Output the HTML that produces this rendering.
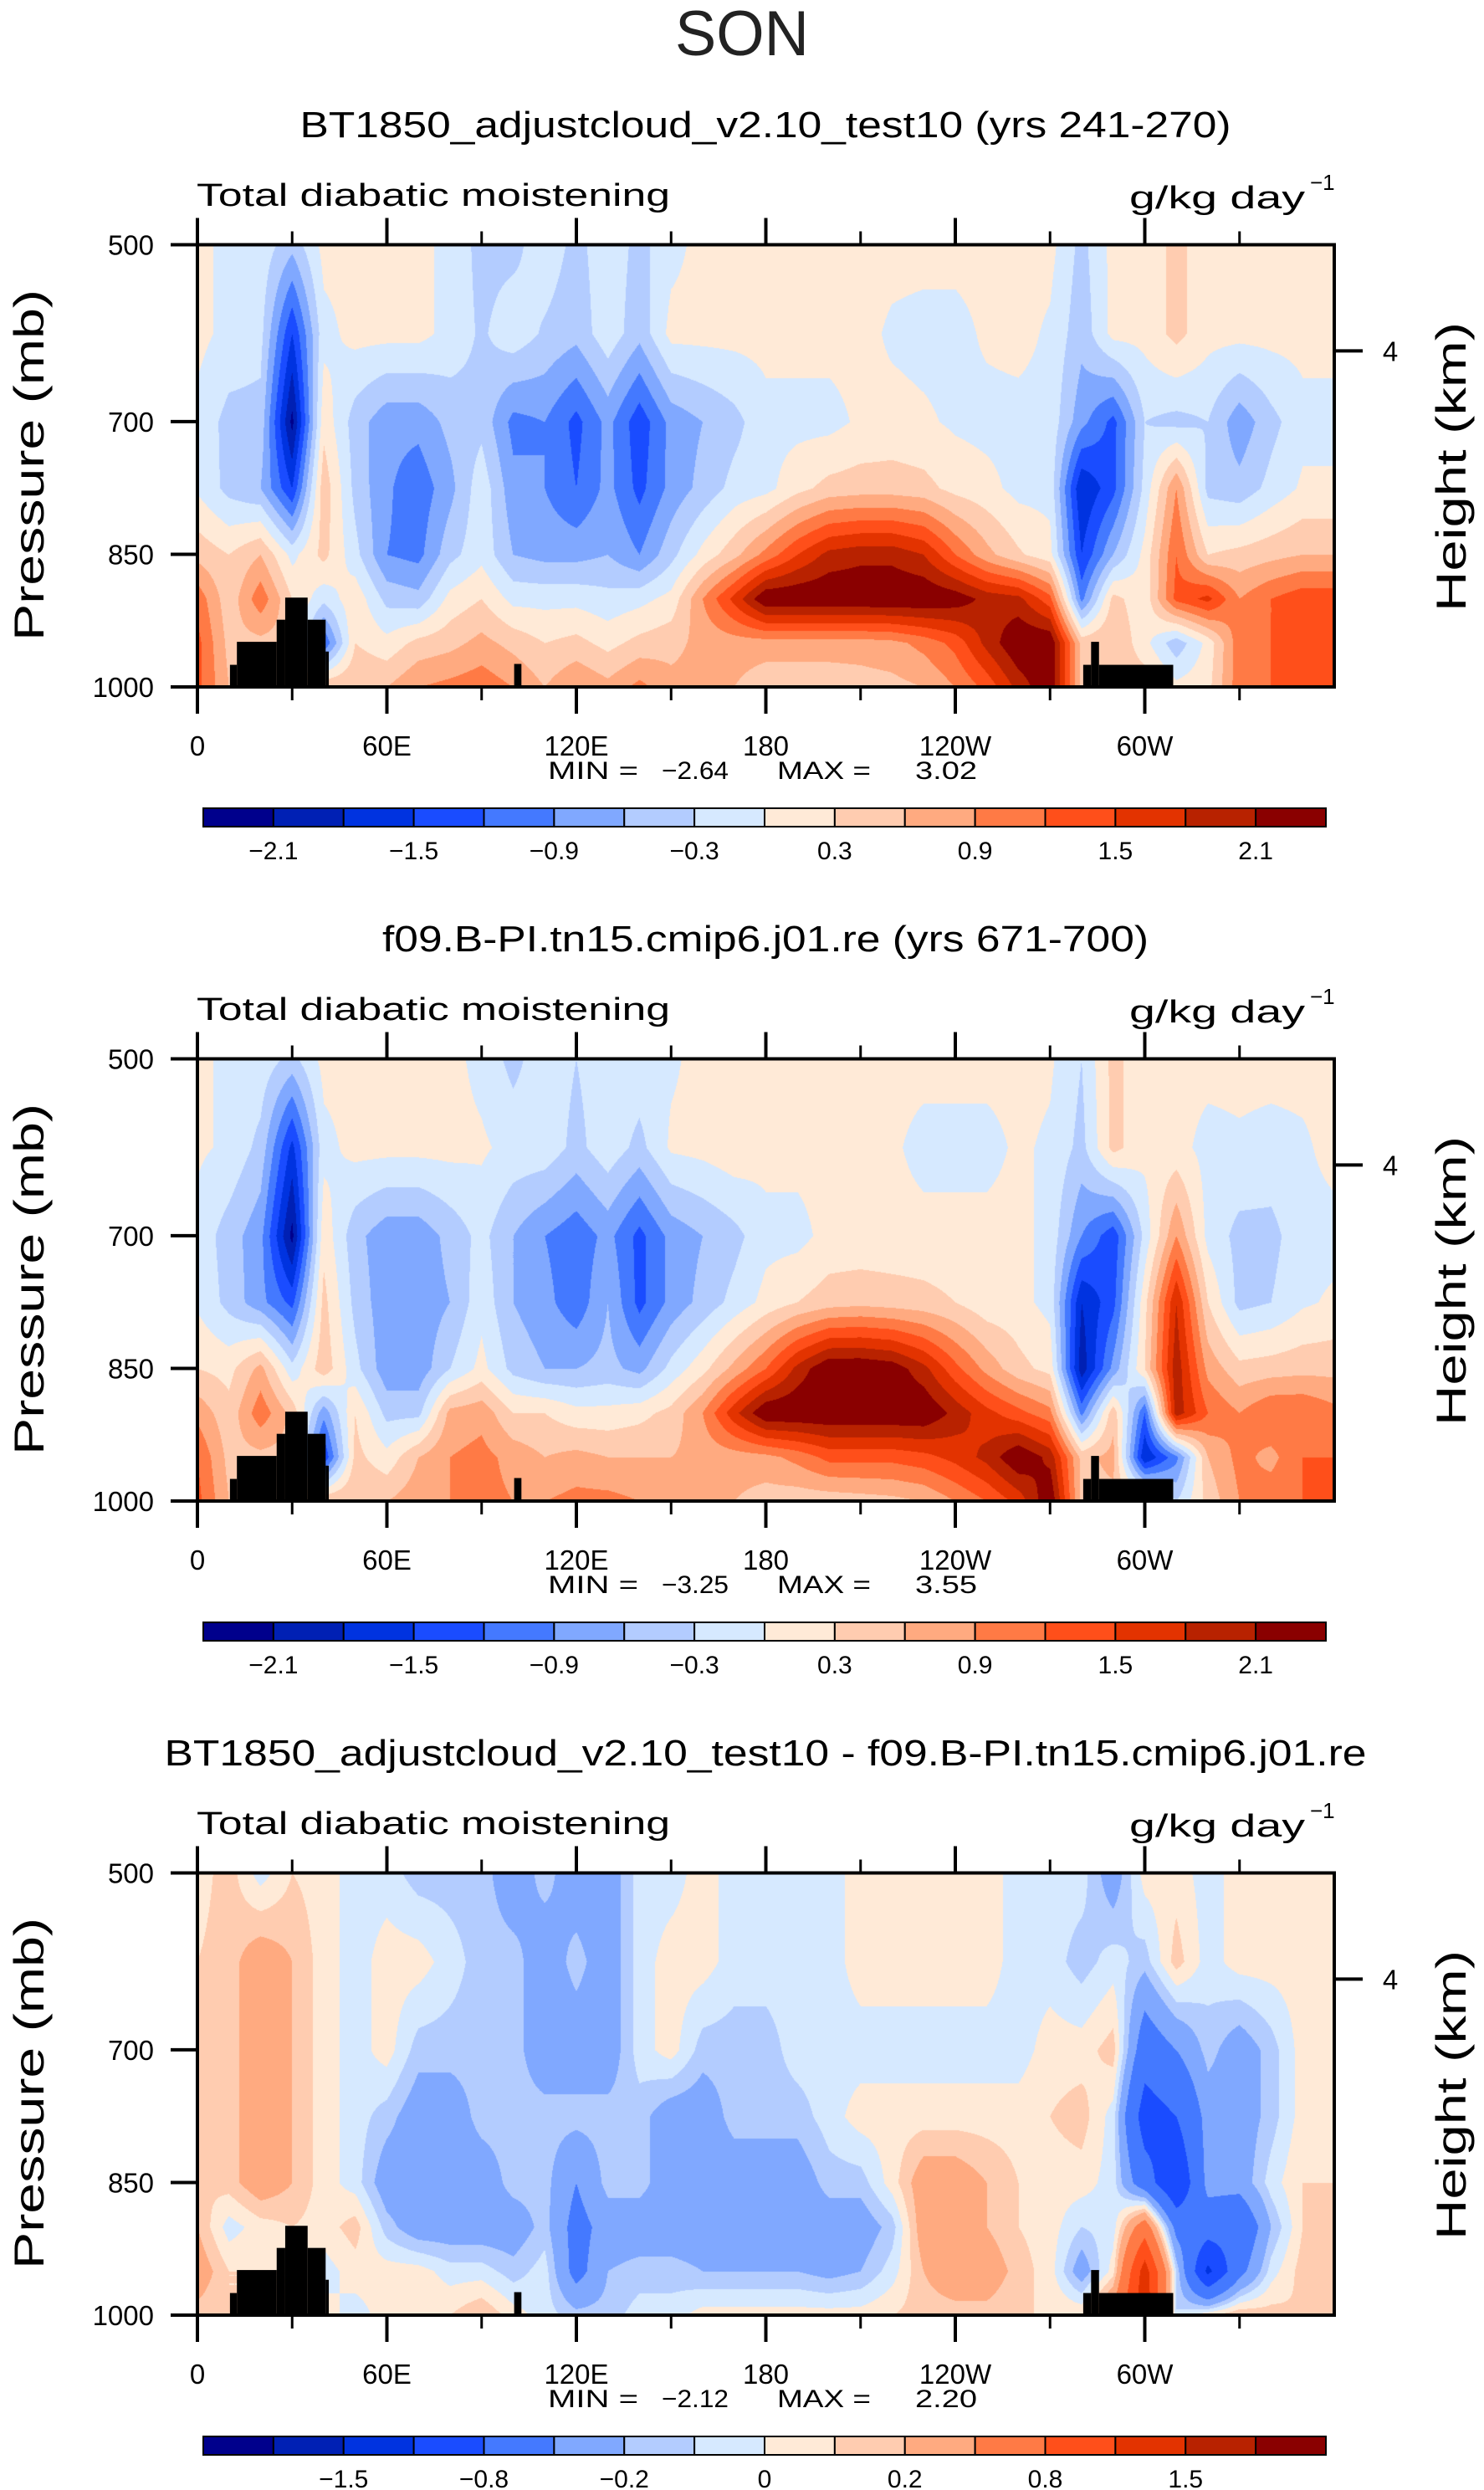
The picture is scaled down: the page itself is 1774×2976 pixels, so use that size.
<!DOCTYPE html>
<html><head><meta charset="utf-8">
<style>
html,body{margin:0;padding:0;background:#fff;}
body{width:1774px;height:2976px;position:relative;overflow:hidden;font-family:"Liberation Sans",sans-serif;}
canvas{position:absolute;}
#overlay{position:absolute;left:0;top:0;}
</style></head>
<body>
<svg id="overlay" width="1774" height="2976" xmlns="http://www.w3.org/2000/svg"></svg>
<script>
// ---------- grid coordinates ----------
const lonGrid = [0,10,20,30,40,50,60,70,80,90,100,110,120,130,140,150,160,170,180,190,200,210,220,230,240,250,260,270,280,290,300,310,320,330,340,350,360];
const presGrid = [500,600,700,775,850,900,950,1000];

// ---------- panel A: BT1850_adjustcloud_v2.10_test10 ----------
const a500 = [0.1,-0.1,-0.1,-0.5,0.1,0.1,0.1,0.1,-0.1,-0.4, -0.4,-0.1,-0.4,-0.1,-0.4,-0.1,0.1,0.1,0.1,0.1, 0.1,0.1,0.1,0.1,0.1,0.1,0.1,0.1,-0.4,0.1, 0.1,0.4,0.1,0.1,0.1,0.1,0.1];
const a600 = [0.1,-0.1,-0.2,-1.5,-0.1,0.1,0.1,0.1,-0.1,-0.35, -0.1,-0.35,-0.5,-0.1,-0.5,0.1,0.1,0.1,0.1,0.1, 0.1,0.1,-0.05,-0.1,-0.1,0.05,0.1,-0.05,-0.5,0.1, 0.1,0.4,0.1,0.1,0.1,0.1,0.1];
const a700 = [-0.1,-0.4,-0.4,-2.2,0.2,-0.45,-0.8,-0.8,-0.5,-0.4, -1.0,-0.9,-1.3,-0.8,-1.4,-0.8,-0.6,-0.4,-0.1,-0.1, -0.1,0.05,0.1,0.05,-0.05,-0.1,-0.1,-0.1,-0.8,-1.3, -0.3,-0.4,-0.3,-0.8,-0.4,-0.1,-0.1];
const a775 = [-0.05,-0.4,-0.6,-1.5,0.5,-0.4,-0.85,-1.1,-0.7,-0.1, -0.8,-0.9,-1.2,-0.8,-1.3,-0.8,-0.5,-0.2,-0.1,0.2, 0.4,0.45,0.45,0.4,0.2,0.1,-0.1,-0.1,-1.8,-1.3, -0.2,0.9,-0.4,-0.5,-0.2,0.05,0.05];
const a850 = [0.5,0.3,0.6,-0.1,0.4,-0.2,-0.9,-1.0,-0.4,-0.1, -0.6,-0.7,-0.7,-0.6,-0.9,-0.4,0.1,0.5,1.0,1.5, 1.9,2.0,2.0,1.8,1.2,0.7,0.35,0.1,-1.5,-0.6, 0.1,1.2,0.3,0.4,0.5,0.6,0.6];
const a900 = [1.1,0.4,1.1,0.3,-0.2,0.2,-0.4,-0.5,0.1,0.3, -0.1,-0.1,-0.1,-0.2,-0.1,0.1,0.9,1.6,2.4,2.4, 2.4,2.4,2.4,2.4,2.3,2.0,1.9,1.3,-1.0,0.4, 0.1,1.3,1.6,0.9,1.2,1.4,1.4];
const a950 = [1.3,0.5,0.5,0.5,-1.2,0.3,0.1,0.4,0.5,0.7, 0.5,0.3,0.4,0.2,0.4,0.5,0.7,0.75,0.75,0.75, 0.75,0.75,0.8,1.0,1.3,1.9,2.4,2.4,0.5,0.6, 0.1,-0.5,0.1,1.1,1.2,1.4,1.4];
const a1000 = [1.3,0.6,0.6,0.6,0.6,0.6,0.6,0.9,1.0,1.1, 0.9,0.6,0.9,0.7,1.0,0.7,0.7,0.6,0.4,0.4, 0.4,0.45,0.5,0.6,0.9,1.3,1.9,2.4,0.5,0.5, 0.5,0.1,0.2,1.1,1.2,1.3,1.3];

// ---------- panel B: f09.B-PI.tn15.cmip6.j01.re ----------
const b500 = [0.1,-0.1,-0.1,-0.4,0.1,0.1,0.1,0.1,0.1,-0.1, -0.4,-0.1,-0.3,-0.1,-0.1,-0.05,0.1,0.1,0.1,0.1, 0.1,0.1,0.1,0.1,0.1,0.1,0.1,0.05,-0.3,0.4, 0.1,0.1,0.1,0.1,0.1,0.1,0.1];
const b600 = [0.05,-0.05,-0.4,-1.6,-0.1,0.1,0.1,0.1,0.1,0.05, -0.1,-0.1,-0.4,-0.1,-0.4,0.05,0.1,0.2,0.1,0.1, 0.1,0.1,0.05,-0.1,-0.1,-0.1,0.05,-0.05,-0.4,0.4, 0.1,0.1,-0.1,-0.05,-0.1,-0.05,0.1];
const b700 = [-0.1,-0.45,-0.8,-2.2,0.2,-0.5,-0.8,-0.8,-0.5,-0.2, -0.6,-0.9,-1.1,-0.8,-1.3,-0.8,-0.6,-0.4,-0.1,-0.1, 0.1,0.1,0.1,0.1,0.1,0.1,0.1,-0.1,-0.9,-1.4, -0.2,0.9,-0.1,-0.4,-0.4,-0.1,-0.1];
const b775 = [-0.05,-0.4,-0.8,-1.3,0.4,-0.4,-0.8,-0.8,-0.6,-0.1, -0.6,-0.8,-1.1,-0.6,-1.3,-0.8,-0.5,-0.2,0.1,0.3, 0.45,0.5,0.45,0.4,0.3,0.1,0.1,-0.1,-1.8,-1.3, 0.2,1.8,0.3,-0.4,-0.3,-0.05,0.05];
const b850 = [0.3,0.2,0.7,-0.2,0.5,-0.2,-0.8,-0.8,-0.3,0.1, -0.4,-0.6,-0.6,-0.5,-0.7,-0.2,0.2,0.7,1.2,1.9, 2.4,2.4,2.3,1.9,1.3,0.8,0.4,0.2,-2.0,-0.8, 0.3,2.0,0.8,0.4,0.45,0.5,0.5];
const b900 = [0.8,0.4,1.1,0.5,-0.8,0.3,-0.4,-0.4,0.7,0.8, 0.3,0.3,0.1,0.1,0.2,0.4,0.9,1.7,2.4,2.4, 2.4,2.4,2.4,2.4,2.0,1.6,1.3,1.0,-1.0,0.5, -1.2,2.0,1.2,0.9,1.2,1.2,1.0];
const b950 = [1.2,0.5,0.5,0.5,-1.5,0.4,0.1,0.6,0.9,1.0, 0.8,0.6,0.7,0.6,0.6,0.6,0.7,0.75,0.8,1.0, 1.3,1.3,1.3,1.4,1.6,1.9,2.4,2.0,0.5,0.7, -1.8,-1.0,0.6,1.0,0.8,1.2,1.2];
const b1000 = [1.3,0.6,0.6,0.6,0.6,0.6,0.6,0.8,0.9,1.0, 0.9,0.9,1.0,1.0,0.9,0.7,0.7,0.6,0.45,0.4, 0.4,0.45,0.5,0.6,0.9,1.2,1.6,2.4,0.5,0.5, 0.5,-0.3,0.4,0.9,1.1,1.2,1.2];

// ---------- panel C: difference ----------
const c500 = [0.05,0.15,-0.05,0.1,0.05,-0.05,-0.05,-0.15,-0.15,-0.15, -0.3,-0.15,-0.3,-0.3,-0.05,-0.05,0.05,-0.05,-0.05,-0.05, -0.05,0.05,0.05,0.05,0.05,0.05,-0.05,-0.05,-0.05,-0.3, 0.05,0.05,-0.05,0.05,0.05,0.05,0.05];
const c600 = [0.1,0.15,0.3,0.2,0.05,-0.05,0.05,0.05,-0.05,-0.15, -0.15,-0.3,-0.15,-0.3,-0.05,0.05,0.05,-0.05,-0.05,-0.05, -0.05,0.05,0.05,0.05,0.05,0.05,-0.05,-0.05,-0.15,-0.05, -0.15,0.15,-0.05,0.05,0.05,0.05,0.05];
const c700 = [0.1,0.15,0.3,0.2,0.05,-0.05,0.05,-0.15,-0.15,-0.15, -0.15,-0.3,-0.3,-0.3,-0.05,0.05,-0.15,-0.15,-0.15,-0.05, -0.05,-0.05,-0.05,-0.05,-0.05,-0.05,-0.05,0.05,0.05,0.15, -0.6,-0.4,-0.15,-0.3,-0.15,0.05,0.05];
const c775 = [0.1,0.15,0.3,0.2,0.05,-0.05,-0.15,-0.3,-0.3,-0.15, -0.15,-0.15,-0.15,-0.15,-0.15,-0.3,-0.3,-0.15,-0.15,-0.15, -0.05,0.05,0.05,0.05,0.05,0.05,0.05,0.1,0.15,-0.05, -1.0,-0.8,-0.3,-0.3,-0.15,0.05,0.05];
const c850 = [0.1,0.15,0.3,0.2,0.05,-0.05,-0.3,-0.3,-0.3,-0.3, -0.15,-0.15,-0.4,-0.15,-0.15,-0.3,-0.3,-0.3,-0.3,-0.3, -0.15,-0.15,0.05,0.3,0.3,0.2,0.1,0.05,0.05,-0.05, -0.6,-1.2,-0.3,-0.3,-0.05,0.1,0.1];
const c900 = [0.2,-0.05,0.05,0.1,0.05,0.15,-0.15,-0.3,-0.3,-0.3, -0.3,-0.15,-0.5,-0.3,-0.3,-0.3,-0.3,-0.3,-0.3,-0.3, -0.3,-0.3,-0.15,0.3,0.3,0.2,0.1,0.05,-0.1,-0.05, 0.6,-0.5,-0.6,-0.7,-0.2,0.1,0.2];
const c950 = [0.3,0.1,0.1,0.1,-0.05,0.05,0.05,0.05,-0.05,-0.05, -0.15,-0.05,-0.5,-0.2,-0.15,-0.15,-0.2,-0.2,-0.2,-0.2, -0.25,-0.2,-0.05,0.2,0.3,0.3,0.15,0.05,-0.3,0.05, 1.4,-0.1,-1.3,-0.5,-0.05,0.15,0.2];
const c1000 = [0.15,0.1,0.1,0.1,0.05,-0.05,0.05,0.1,0.1,0.2, 0.05,-0.05,-0.15,-0.15,-0.05,-0.05,0.05,0.05,0.05,0.05, 0.05,0.05,0.1,0.15,0.15,0.15,0.1,0.1,0.1,0.5, 1.5,-0.1,0.1,0.2,0.15,0.1,0.1];

// ---------- contour levels / labels ----------
const levelsAB = [-2.1,-1.8,-1.5,-1.2,-0.9,-0.6,-0.3,0,0.3,0.6,0.9,1.2,1.5,1.8,2.1];
const levelsC = [-1.8,-1.5,-1.2,-0.8,-0.4,-0.2,-0.1,0,0.1,0.2,0.4,0.8,1.2,1.5,1.8];
const labelsAB = ["−2.1","","−1.5","","−0.9","","−0.3","","0.3","","0.9","","1.5","","2.1"];
const labelsC = ["","−1.5","","−0.8","","−0.2","","0","","0.2","","0.8","","1.5",""];
const minVals = ["−2.64","−3.25","−2.12"];
const maxVals = ["3.02","3.55","2.20"];
const titles = ["BT1850_adjustcloud_v2.10_test10 (yrs 241-270)","f09.B-PI.tn15.cmip6.j01.re (yrs 671-700)","BT1850_adjustcloud_v2.10_test10 - f09.B-PI.tn15.cmip6.j01.re"];
const xTickLons = [0,60,120,180,240,300];
const xTickLabels = ["0","60E","120E","180","120W","60W"];
const xMinorLons = [30,90,150,210,270,330];
const yTickPres = [500,700,850,1000];
const yTickLabels = ["500","700","850","1000"];
// terrain (black) segments: lon start, lon end, top pressure
const terrLon0 = [10.3,12.5,25.1,27.8,34.9,40.6,100.3,280.5,283,285.5];
const terrLon1 = [12.5,25.1,27.8,34.9,40.6,41.6,102.6,283,285.5,309];
const terrTop = [975,949,924,899,924,960,974,975,949,975];

const colors = ["#00008c","#0020b4","#0033e0","#1a4cff","#4479ff","#80a8ff","#b3ccff","#d6e9ff","#ffead7","#ffccb0","#ffaa80","#ff7a45","#ff4f1a","#e33300","#b82200","#8a0000"];

// ---------- layout ----------
const PX0 = 236, PX1 = 1595, PY0 = 292.5, PH = 528.5;
const offsets = [0, 973, 1946];
const SVGNS = "http://www.w3.org/2000/svg";
const svg = document.getElementById('overlay');

function xOf(lon){ return PX0 + lon/360*(PX1-PX0); }
function yOf(p, off){ return PY0 + off + (p-500)/500*PH; }

function el(tag, attrs, parent){
  const e = document.createElementNS(SVGNS, tag);
  for (const k in attrs) e.setAttribute(k, attrs[k]);
  (parent||svg).appendChild(e);
  return e;
}
function txt(str, attrs, parent){
  const t = el('text', attrs, parent);
  t.textContent = str;
  return t;
}

function sample(rows, lon, p){
  let j = 0;
  while (j < presGrid.length-2 && p > presGrid[j+1]) j++;
  const tp = Math.min(1, Math.max(0, (p-presGrid[j])/(presGrid[j+1]-presGrid[j])));
  let i = Math.min(lonGrid.length-2, Math.floor(lon/10));
  const tl = Math.min(1, Math.max(0, (lon-lonGrid[i])/(lonGrid[i+1]-lonGrid[i])));
  const r0 = rows[j], r1 = rows[j+1];
  const v0 = r0[i]*(1-tl) + r0[i+1]*tl;
  const v1 = r1[i]*(1-tl) + r1[i+1]*tl;
  return v0*(1-tp) + v1*tp;
}
function hexToRgb(h){ return [parseInt(h.substr(1,2),16),parseInt(h.substr(3,2),16),parseInt(h.substr(5,2),16)]; }
const rgb = colors.map(hexToRgb);

function drawField(rows, levels, off, name){
  const W = PX1-PX0, H = Math.round(PH);
  const cv = document.createElement('canvas');
  cv.width = W; cv.height = H;
  cv.style.left = PX0+'px'; cv.style.top = (PY0+off)+'px';
  
  
  document.body.insertBefore(cv, svg);
  const ctx = cv.getContext('2d');
  const img = ctx.createImageData(W, H);
  for (let y=0; y<H; y++){
    const p = 500 + (y+0.5)/PH*500;
    for (let x=0; x<W; x++){
      const lon = (x+0.5)/W*360;
      const v = sample(rows, lon, p);
      let k = 0; while (k < levels.length && v >= levels[k]) k++;
      const c = rgb[k], o = (y*W+x)*4;
      img.data[o]=c[0]; img.data[o+1]=c[1]; img.data[o+2]=c[2]; img.data[o+3]=255;
    }
  }
  ctx.putImageData(img, 0, 0);
}

// SON title
const son = txt("SON", {x:887, y:66, 'font-size':76, 'text-anchor':'middle', fill:'#222', 'textLength':160, 'lengthAdjust':'spacingAndGlyphs'});



const panels = [[a500,a600,a700,a775,a850,a900,a950,a1000],[b500,b600,b700,b775,b850,b900,b950,b1000],[c500,c600,c700,c775,c850,c900,c950,c1000]];
const titleW = [1113, 916, 1437];

panels.forEach((rows, pi) => {
  const off = offsets[pi];
  const levels = pi===2 ? levelsC : levelsAB;
  const labels = pi===2 ? labelsC : labelsAB;
  drawField(rows, levels, off, 'contour-field-'+(pi+1));

  const g = el('g', {});
  
  

  // terrain
  for (let t=0; t<terrLon0.length; t++){
    const r = el('rect', {x:xOf(terrLon0[t]), y:yOf(terrTop[t],off), width:xOf(terrLon1[t])-xOf(terrLon0[t]), height:yOf(1000,off)-yOf(terrTop[t],off), fill:'#000'}, g);
    
    
  }

  // title
  const tt = txt(titles[pi], {x:915, y:164+off, 'font-size':44, 'text-anchor':'middle', fill:'#000', textLength:titleW[pi], lengthAdjust:'spacingAndGlyphs'}, g);
  
  

  const lt = txt("Total diabatic moistening", {x:235, y:246+off, 'font-size':38, fill:'#000', textLength:566, lengthAdjust:'spacingAndGlyphs'}, g);
  
  

  const ut = txt("g/kg day", {x:1350, y:249+off, 'font-size':38, fill:'#000', textLength:210, lengthAdjust:'spacingAndGlyphs'}, g);
  
  
  const us = txt("−1", {x:1566, y:227+off, 'font-size':26, fill:'#000'}, g);
  
  

  // frame
  const fr = el('rect', {x:PX0, y:PY0+off, width:PX1-PX0, height:PH, fill:'none', stroke:'#000', 'stroke-width':4}, g);
  
  

  // x ticks
  xTickLons.forEach((lon, i) => {
    const x = xOf(lon);
    const tb = el('line', {x1:x, x2:x, y1:yOf(1000,off), y2:yOf(1000,off)+32, stroke:'#000', 'stroke-width':4}, g);
    
    
    const tu = el('line', {x1:x, x2:x, y1:yOf(500,off), y2:yOf(500,off)-32, stroke:'#000', 'stroke-width':4}, g);
    
    
    const lb = txt(xTickLabels[i], {x:x, y:903+off, 'font-size':33, 'text-anchor':'middle', fill:'#000'}, g);
    
    
  });
  xMinorLons.forEach(lon => {
    const x = xOf(lon);
    const mb = el('line', {x1:x, x2:x, y1:yOf(1000,off), y2:yOf(1000,off)+16, stroke:'#000', 'stroke-width':3}, g);
    
    
    const mt = el('line', {x1:x, x2:x, y1:yOf(500,off), y2:yOf(500,off)-16, stroke:'#000', 'stroke-width':3}, g);
    
    
  });
  // y ticks
  yTickPres.forEach((p, i) => {
    const y = yOf(p, off);
    const tl = el('line', {x1:PX0-32, x2:PX0, y1:y, y2:y, stroke:'#000', 'stroke-width':4}, g);
    
    
    const lb = txt(yTickLabels[i], {x:184, y:y+12, 'font-size':33, 'text-anchor':'end', fill:'#000'}, g);
    
    
  });
  // height axis
  const hy = yOf(620, off);
  const ht = el('line', {x1:PX1, x2:PX1+34, y1:hy, y2:hy, stroke:'#000', 'stroke-width':4}, g);
  
  
  const hl = txt("4", {x:1662, y:hy+12, 'font-size':33, 'text-anchor':'middle', fill:'#000'}, g);
  
  

  const yl = txt("Pressure (mb)", {x:0, y:0, 'font-size':50, 'text-anchor':'middle', fill:'#000', textLength:420, lengthAdjust:'spacingAndGlyphs', transform:'translate(52,'+(556+off)+') rotate(-90)'}, g);
  
  
  const yr = txt("Height (km)", {x:0, y:0, 'font-size':50, 'text-anchor':'middle', fill:'#000', textLength:346, lengthAdjust:'spacingAndGlyphs', transform:'translate(1752,'+(558+off)+') rotate(-90)'}, g);
  
  

  // min / max
  const m1 = txt("MIN =", {x:655, y:931+off, 'font-size':30, fill:'#000', textLength:108, lengthAdjust:'spacingAndGlyphs'}, g);
  
  
  const m2 = txt(minVals[pi], {x:791, y:931+off, 'font-size':30, fill:'#000', textLength:80, lengthAdjust:'spacingAndGlyphs'}, g);
  
  
  const m3 = txt("MAX =", {x:929, y:931+off, 'font-size':30, fill:'#000', textLength:112, lengthAdjust:'spacingAndGlyphs'}, g);
  
  
  const m4 = txt(maxVals[pi], {x:1094, y:931+off, 'font-size':30, fill:'#000', textLength:74, lengthAdjust:'spacingAndGlyphs'}, g);
  
  

  // colorbar
  const cbX0 = 243, cbX1 = 1585, cbY = 966 + off, cbH = 22;
  const bw = (cbX1-cbX0)/16;
  for (let k=0; k<16; k++){
    const b = el('rect', {x:cbX0+k*bw, y:cbY, width:bw, height:cbH, fill:colors[k], stroke:'#000', 'stroke-width':2}, g);
    
    
  }
  levels.forEach((lv, k) => {
    if (!labels[k]) return;
    const l = txt(labels[k], {x:cbX0+(k+1)*bw, y:1027+off, 'font-size':30, 'text-anchor':'middle', fill:'#000'}, g);
    
    
  });
});
</script>
</body></html>
